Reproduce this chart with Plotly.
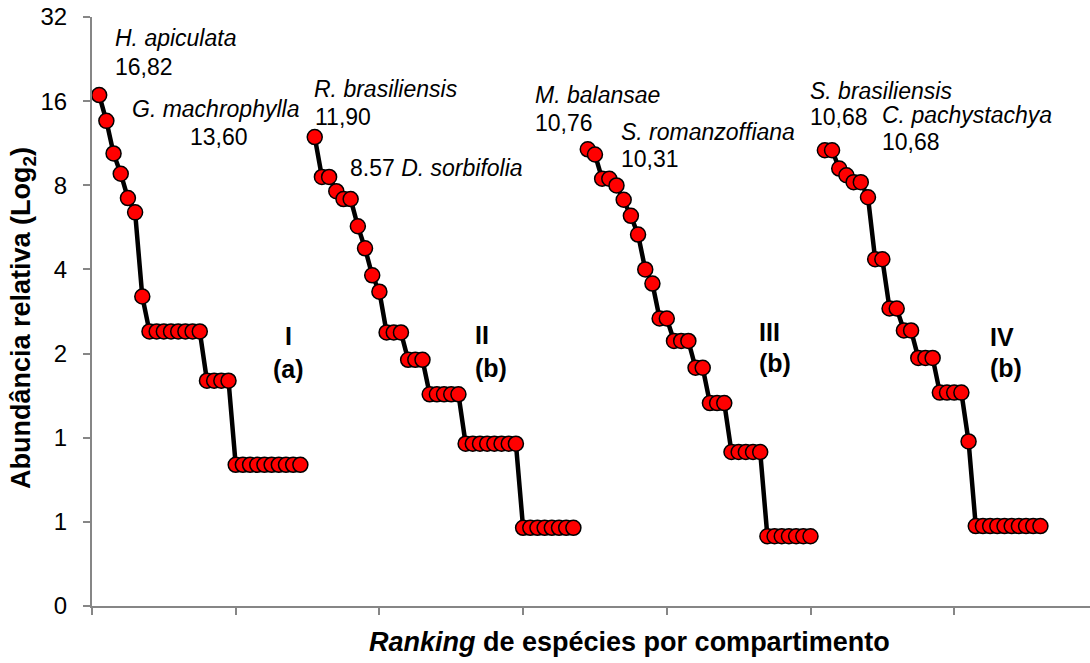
import plotly.graph_objects as go
import math

# ---- data (relative abundance, ranked within each compartment) ----
comp_I = [16.82, 13.60, 10.40, 8.80, 7.20, 6.40, 3.20,
          2.40, 2.40, 2.40, 2.40, 2.40, 2.40, 2.40, 2.40,
          1.60, 1.60, 1.60, 1.60,
          0.80, 0.80, 0.80, 0.80, 0.80, 0.80, 0.80, 0.80, 0.80, 0.80]
comp_II = [11.90, 8.57, 8.57, 7.62, 7.14, 7.14, 5.71, 4.76, 3.81, 3.33,
           2.38, 2.38, 2.38,
           1.90, 1.90, 1.90,
           1.43, 1.43, 1.43, 1.43, 1.43,
           0.952, 0.952, 0.952, 0.952, 0.952, 0.952, 0.952, 0.952,
           0.476, 0.476, 0.476, 0.476, 0.476, 0.476, 0.476, 0.476]
comp_III = [10.76, 10.31, 8.44, 8.44, 7.99, 7.10, 6.22, 5.33, 4.00, 3.56,
            2.67, 2.67,
            2.22, 2.22, 2.22,
            1.78, 1.78,
            1.33, 1.33, 1.33,
            0.889, 0.889, 0.889, 0.889, 0.889,
            0.444, 0.444, 0.444, 0.444, 0.444, 0.444, 0.444]
comp_IV = [10.68, 10.68, 9.18, 8.69, 8.21, 8.21, 7.25, 4.35, 4.35, 2.90, 2.90,
           2.42, 2.42,
           1.93, 1.93, 1.93,
           1.45, 1.45, 1.45, 1.45,
           0.97,
           0.483, 0.483, 0.483, 0.483, 0.483, 0.483, 0.483, 0.483, 0.483, 0.483]
compartments = [comp_I, comp_II, comp_III, comp_IV]

y_tickvals = [0.25, 0.5, 1, 2, 4, 8, 16, 32]
y_ticktext = ["0", "1", "1", "2", "4", "8", "16", "32"]

species_labels = [
    ("<i>H. apiculata</i>", 113, 38),
    ("16,82", 113, 67),
    ("<i>G. machrophylla</i>", 130, 109),
    ("13,60", 188, 137),
    ("<i>R. brasiliensis</i>", 312, 89),
    ("11,90", 313, 117),
    ("8.57 <i>D. sorbifolia</i>", 348, 168),
    ("<i>M. balansae</i>", 533, 95),
    ("10,76", 533, 123),
    ("<i>S. romanzoffiana</i>", 619, 132),
    ("10,31", 619, 159),
    ("<i>S. brasiliensis</i>", 808, 91),
    ("10,68", 808, 117),
    ("<i>C. pachystachya</i>", 880, 115),
    ("10,68", 880, 142),
]
group_labels = [
    ("<b>I</b>", 288, 336, "center"),
    ("<b>(a)</b>", 288, 369, "center"),
    ("<b>II</b>", 473, 335, "left"),
    ("<b>(b)</b>", 473, 368, "left"),
    ("<b>III</b>", 757, 332, "left"),
    ("<b>(b)</b>", 757, 363, "left"),
    ("<b>IV</b>", 988, 337, "left"),
    ("<b>(b)</b>", 988, 368, "left"),
]

# ---- layout geometry ----
W, H = 1090, 663
L, R, T, B = 92, 0, 17, 57
pw, ph = W - L - R, H - T - B

def px(x):
    return (x - L) / pw

def py(y):
    return (H - B - y) / ph

FONT = "Liberation Sans, Arial, sans-serif"

fig = go.Figure()
start = 0
for vals in compartments:
    xs = list(range(start, start + len(vals)))
    fig.add_trace(go.Scatter(
        x=xs, y=vals, mode="lines+markers",
        line=dict(color="black", width=4.5),
        marker=dict(size=15, color="#ff0000", line=dict(color="black", width=1.5)),
        showlegend=False, hoverinfo="skip"))
    start += len(vals) + 1

annotations = []
for txt, x, y in species_labels:
    annotations.append(dict(text=txt, x=px(x), y=py(y), xref="paper", yref="paper",
                            xanchor="left", yanchor="middle", showarrow=False,
                            font=dict(family=FONT, size=23, color="black")))
for txt, x, y, anc in group_labels:
    annotations.append(dict(text=txt, x=px(x), y=py(y), xref="paper", yref="paper",
                            xanchor=anc, yanchor="middle", showarrow=False,
                            font=dict(family=FONT, size=25, color="black")))
# axis titles
annotations.append(dict(text="<b><i>Ranking</i> de espécies por compartimento</b>",
                        x=px(629), y=py(642), xref="paper", yref="paper",
                        xanchor="center", yanchor="middle", showarrow=False,
                        font=dict(family=FONT, size=27, color="black")))
annotations.append(dict(text="<b>Abundância relativa (Log<sub>2</sub>)</b>",
                        x=px(23), y=py(318), xref="paper", yref="paper",
                        xanchor="center", yanchor="middle", showarrow=False, textangle=-90,
                        font=dict(family=FONT, size=27, color="black")))

fig.update_layout(
    width=W, height=H,
    margin=dict(l=L, r=R, t=T, b=B, pad=0),
    paper_bgcolor="white", plot_bgcolor="white",
    annotations=annotations,
    font=dict(family=FONT, color="black"),
)
fig.update_xaxes(
    range=[-1, 137.9], showgrid=False, zeroline=False,
    showline=True, linecolor="#868686", linewidth=2,
    tickmode="linear", tick0=-1, dtick=20,
    ticks="outside", ticklen=7, tickwidth=1.5, tickcolor="#868686",
    showticklabels=False,
)
fig.update_yaxes(
    type="log", range=[math.log10(0.25), math.log10(32)],
    showgrid=False, zeroline=False,
    showline=True, linecolor="#868686", linewidth=2,
    tickmode="array", tickvals=y_tickvals, ticktext=y_ticktext,
    ticks="outside", ticklen=7, tickwidth=1.5, tickcolor="#868686",
    tickfont=dict(family=FONT, size=24, color="black"),
    ticklabelstandoff=11,
)

fig.write_html("out.html")
